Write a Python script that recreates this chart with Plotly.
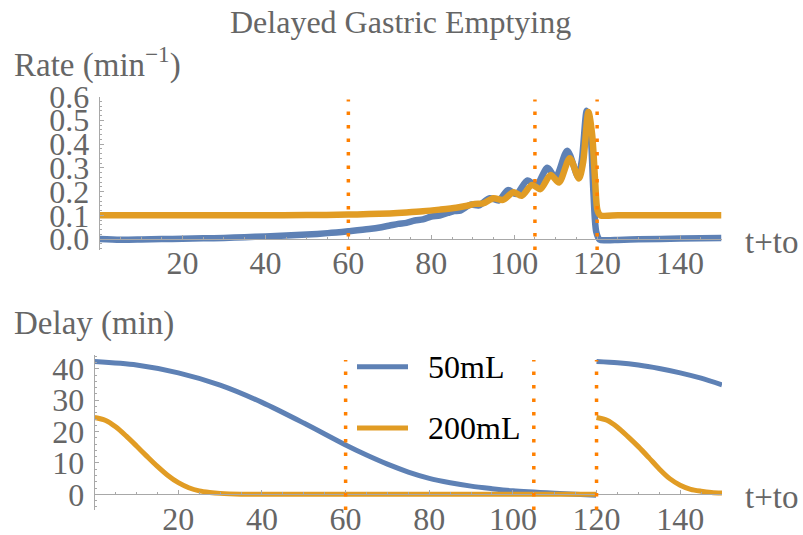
import plotly.graph_objects as go

W, H = 803, 535
FONT = "Liberation Serif"
TEXT_GRAY = "#666666"
AXIS_GRAY = "#a8a8a8"
BLUE = "#5e81b5"
ORANGE = "#e19c24"
MARKER_ORANGE = "#ff8000"

# ---- Rate of gastric emptying (min^-1) ----
rate_t_50 = [0, 5, 10, 15, 20, 25, 30, 35, 40, 45, 50, 55, 60, 65, 68, 70, 72, 74,
             76, 78, 80, 82, 84, 85.5, 87, 89.5, 91.5, 94.1, 96.3, 98.5, 100.5,
             103.2, 105.3, 108.0, 110.0, 112.8, 115.4, 116.3, 117.5, 118.4, 119.1,
             119.8, 120.6, 122, 125, 130, 140, 150]
rate_50 = [0.0, -0.003, -0.002, 0.0, 0.001, 0.003, 0.005, 0.008, 0.011, 0.015,
           0.019, 0.025, 0.033, 0.042, 0.05, 0.057, 0.064, 0.068,
           0.078, 0.083, 0.095, 0.099, 0.11, 0.118, 0.12, 0.145, 0.142, 0.172,
           0.163, 0.206, 0.19, 0.247, 0.225, 0.30, 0.26, 0.372, 0.262, 0.33,
           0.54, 0.45, 0.2, 0.03, -0.002, -0.005, -0.004, -0.001, 0.002, 0.005]

rate_t_200 = [0, 20, 40, 50, 60, 65, 70, 74, 78, 82, 86, 88, 90.5, 92.5, 95, 97.3,
              99.8, 101.8, 104.3, 106.3, 108.8, 110.8, 113.4, 115.6, 116.6, 117.9,
              118.8, 119.5, 120.1, 120.8, 125, 130, 150]
rate_200 = [0.100, 0.100, 0.100, 0.101, 0.103, 0.105, 0.108, 0.112, 0.117, 0.124,
            0.132, 0.138, 0.148, 0.150, 0.172, 0.165, 0.197, 0.182, 0.228, 0.21,
            0.27, 0.238, 0.34, 0.255, 0.32, 0.535, 0.44, 0.25, 0.12, 0.1, 0.1,
            0.1, 0.1]

# ---- Delay (min); None splits the curve at the reset t+to = 120 ----
delay_t_50 = [0, 10, 20, 30, 40, 50, 60, 65, 70, 75, 80, 85, 90, 95, 100, 110, 119.9,
              None, 120, 125, 130, 135, 140, 145, 150]
delay_50 = [42.3, 41.2, 38.7, 34.8, 29.3, 22.7, 15.7, 12.5, 9.6, 7.1, 5.1, 3.7, 2.6,
            1.8, 1.1, 0.3, -0.3,
            None, 42.3, 41.9, 41.2, 40.1, 38.7, 37.0, 34.9]

delay_t_200 = [0, 2.5, 5, 7.5, 10, 12.5, 15, 17.5, 20, 22.5, 25, 27.5, 30, 35, 40,
               80, 119.9,
               None, 120, 122.5, 125, 127.5, 130, 132.5, 135, 137.5, 140, 142.5,
               145, 147.5, 150]
delay_200 = [24.5, 23.6, 21.5, 18.6, 15.4, 12.1, 8.9, 6.0, 3.7, 2.1, 1.1, 0.6, 0.3,
             0.05, 0.0, 0.0, 0.0,
             None, 24.5, 23.6, 21.4, 18.4, 15.2, 11.7, 8.1, 5.0, 2.9, 1.6, 1.0,
             0.6, 0.4]

# ---- Axis ticks, event times, legend ----
t_ticks = [20, 40, 60, 80, 100, 120, 140]
rate_ticks = [0.0, 0.1, 0.2, 0.3, 0.4, 0.5, 0.6]
delay_ticks = [0, 10, 20, 30, 40]
event_times = [60, 105, 120]
series_names = ["50mL", "200mL"]
series_colors = [BLUE, ORANGE]


# Panel geometry (pixels -> paper)
def fx(p):
    return p / W


def fy(p):
    return 1 - p / H


top_xdom = [fx(99.6), fx(721.5)]
top_ydom = [fy(250), fy(96.5)]
bot_xdom = [fx(94.7), fx(722)]
bot_ydom = [fy(510), fy(355)]
t_range = [0, 150]
rate_range = [-0.046, 0.6]
delay_range = [-5, 44.4]


def zero_pos(dom, rng):
    return dom[0] + (0 - rng[0]) / (rng[1] - rng[0]) * (dom[1] - dom[0])


fig = go.Figure()

fig.add_trace(go.Scatter(x=rate_t_50, y=rate_50, mode="lines", xaxis="x", yaxis="y",
                         line=dict(color=BLUE, width=6.5, shape="spline", smoothing=0.8),
                         showlegend=False))
fig.add_trace(go.Scatter(x=rate_t_200, y=rate_200, mode="lines", xaxis="x", yaxis="y",
                         line=dict(color=ORANGE, width=6.5, shape="spline", smoothing=0.8),
                         showlegend=False))
fig.add_trace(go.Scatter(x=delay_t_50, y=delay_50, mode="lines", xaxis="x2", yaxis="y2",
                         line=dict(color=BLUE, width=5, shape="spline", smoothing=0.8),
                         showlegend=False, connectgaps=False))
fig.add_trace(go.Scatter(x=delay_t_200, y=delay_200, mode="lines", xaxis="x2", yaxis="y2",
                         line=dict(color=ORANGE, width=5, shape="spline", smoothing=0.8),
                         showlegend=False, connectgaps=False))

tick_font = dict(family=FONT, size=32, color=TEXT_GRAY)

xcommon = dict(range=t_range, showgrid=False, zeroline=False, showline=True,
               linecolor=AXIS_GRAY, linewidth=1, ticks="inside", ticklen=4,
               tickcolor=AXIS_GRAY, tickvals=t_ticks, tickfont=tick_font,
               ticklabelstandoff=-4,
               minor=dict(dtick=5, ticks="inside", ticklen=2.5, tickcolor=AXIS_GRAY),
               anchor="free")
ycommon = dict(showgrid=False, zeroline=False, showline=True, linecolor=AXIS_GRAY,
               linewidth=1, ticks="inside", ticklen=4, tickcolor=AXIS_GRAY,
               tickfont=tick_font, ticklabelstandoff=3)

fig.update_layout(
    width=W, height=H,
    margin=dict(l=0, r=0, t=0, b=0, autoexpand=False),
    paper_bgcolor="white", plot_bgcolor="white",
    showlegend=False,
    xaxis=dict(domain=top_xdom, position=zero_pos(top_ydom, rate_range), **xcommon),
    yaxis=dict(domain=top_ydom, range=rate_range, anchor="x", tickvals=rate_ticks,
               tickformat=".1f",
               minor=dict(dtick=0.02, ticks="inside", ticklen=2.5, tickcolor=AXIS_GRAY),
               **ycommon),
    xaxis2=dict(domain=bot_xdom, position=zero_pos(bot_ydom, delay_range), **xcommon),
    yaxis2=dict(domain=bot_ydom, range=delay_range, anchor="x2", tickvals=delay_ticks,
                minor=dict(dtick=2, ticks="inside", ticklen=2.5, tickcolor=AXIS_GRAY),
                **ycommon),
)

# Dotted markers at the event times in both panels
for xa, ya, top in (("x", "y domain", 0.98), ("x2", "y2 domain", 0.968)):
    for t in event_times:
        fig.add_shape(type="line", xref=xa, yref=ya, x0=t, x1=t, y0=0, y1=top,
                      line=dict(color=MARKER_ORANGE, width=3.5, dash="3.5px,10px"))

# Legend drawn inside the delay panel
leg_y = [366.7, 428]
for name, col, yp in zip(series_names, series_colors, leg_y):
    fig.add_shape(type="line", xref="paper", yref="paper", x0=fx(357), x1=fx(408),
                  y0=fy(yp), y1=fy(yp), line=dict(color=col, width=5))
    fig.add_annotation(text=name, xref="paper", yref="paper", x=fx(426), y=fy(yp),
                       xanchor="left", yanchor="middle", showarrow=False,
                       font=dict(family=FONT, size=32, color="black"))

label_font = dict(family=FONT, size=33, color=TEXT_GRAY)
texts = [
    ("Delayed Gastric Emptying", 400, 22, "center", dict(family=FONT, size=32, color=TEXT_GRAY)),
    ("Rate (min<sup>−1</sup>)", 12, 62, "left", label_font),
    ("Delay (min)", 12, 323, "left", label_font),
    ("t+to", 743, 241.7, "left", label_font),
    ("t+to", 743, 496.7, "left", label_font),
]
for txt, xp, yp, anc, fnt in texts:
    fig.add_annotation(text=txt, xref="paper", yref="paper", x=fx(xp), y=fy(yp),
                       xanchor=anc, yanchor="middle", showarrow=False, font=fnt)

fig.write_html("out.html")
